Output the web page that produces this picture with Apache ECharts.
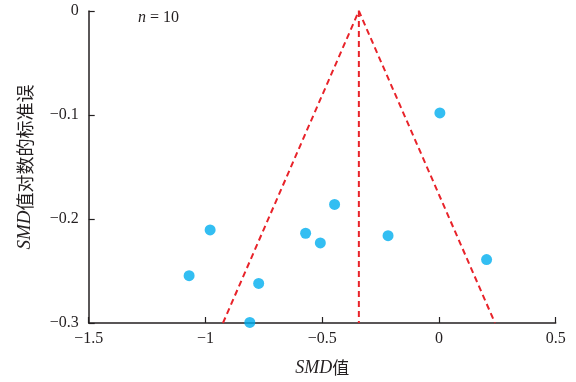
<!DOCTYPE html>
<html><head><meta charset="utf-8">
<script src="https://cdn.jsdelivr.net/npm/echarts@6/dist/echarts.min.js"></script>
<style>html,body{margin:0;padding:0;background:#fff}#c{width:576px;height:382px}</style>
</head><body><div id="c"></div>
<script>
var smd = [0.004, -0.980, -1.070, -0.772, -0.810, -0.571, -0.508, -0.447, -0.218, 0.204];
var se  = [-0.098, -0.2105, -0.2545, -0.262, -0.2995, -0.2137, -0.223, -0.186, -0.216, -0.239];
var funnelX = [-0.925, -0.343, 0.240];
var funnelY = [-0.3, 0, -0.3];
var pooledX = [-0.343, -0.343];
var pooledY = [0, -0.3];
var xTicks = {min: -1.5, max: 0.5, step: 0.5};
var yTicks = {min: -0.3, max: 0, step: 0.1};
var nLabel = '10';

function fmt(v){ var r = Math.round(v*10)/10; var s = String(Math.abs(r)); return (r < 0 ? '\u2212' : '') + s; }
var serif = '"Liberation Serif","DejaVu Serif",serif';
var cjk = '"Noto Sans CJK SC",sans-serif';
var axisColor = '#231f20';

var chart = echarts.init(document.getElementById('c'));
chart.setOption({
  animation: false,
  grid: {left: 88.7, right: 20.3, top: 11, bottom: 57.3},
  xAxis: {
    type: 'value', min: xTicks.min, max: xTicks.max, interval: xTicks.step,
    axisLine: {onZero: false, lineStyle: {color: axisColor, width: 1.5}},
    axisTick: {inside: true, length: 6, lineStyle: {color: axisColor, width: 1.2}},
    splitLine: {show: false},
    axisLabel: {formatter: fmt, fontFamily: serif, fontSize: 16, color: axisColor, margin: 8},
    name: '{i|SMD}{c|值}', nameLocation: 'middle', nameGap: 36,
    nameTextStyle: {rich: {i: {fontFamily: serif, fontStyle: 'italic', fontSize: 18, color: axisColor}, c: {fontFamily: cjk, fontSize: 17, color: axisColor}}}
  },
  yAxis: {
    type: 'value', min: yTicks.min, max: yTicks.max, interval: yTicks.step,
    axisLine: {onZero: false, lineStyle: {color: axisColor, width: 1.5}},
    axisTick: {inside: true, length: 6, lineStyle: {color: axisColor, width: 1.2}},
    splitLine: {show: false},
    axisLabel: {formatter: fmt, fontFamily: serif, fontSize: 16, color: axisColor, margin: 10},
    name: '{i|SMD}{c|值对数的标准误}', nameLocation: 'middle', nameGap: 54, nameRotate: 90,
    nameTextStyle: {rich: {i: {fontFamily: serif, fontStyle: 'italic', fontSize: 19, color: axisColor}, c: {fontFamily: cjk, fontSize: 18, color: axisColor}}}
  },
  series: [
    {type: 'line', data: funnelX.map(function(x,i){return [x, funnelY[i]];}), symbol: 'none',
     lineStyle: {color: '#e8232a', width: 2, type: [6,4]}, z: 2},
    {type: 'line', data: pooledX.map(function(x,i){return [x, pooledY[i]];}), symbol: 'none',
     lineStyle: {color: '#e8232a', width: 2, type: [6,4]}, z: 2},
    {type: 'scatter', data: smd.map(function(x,i){return [x, se[i]];}), symbolSize: 11,
     itemStyle: {color: '#00aeef'}, z: 3}
  ],
  graphic: [{
    type: 'text', left: 138, top: 10,
    style: {text: '{i|n}{e| = }{d|' + nLabel + '}', rich: {
      i: {fontFamily: serif, fontStyle: 'italic', fontSize: 16, fill: axisColor},
      e: {fontFamily: serif, fontSize: 16, fill: axisColor},
      d: {fontFamily: serif, fontSize: 16, fill: axisColor}}}
  }]
});
</script></body></html>
